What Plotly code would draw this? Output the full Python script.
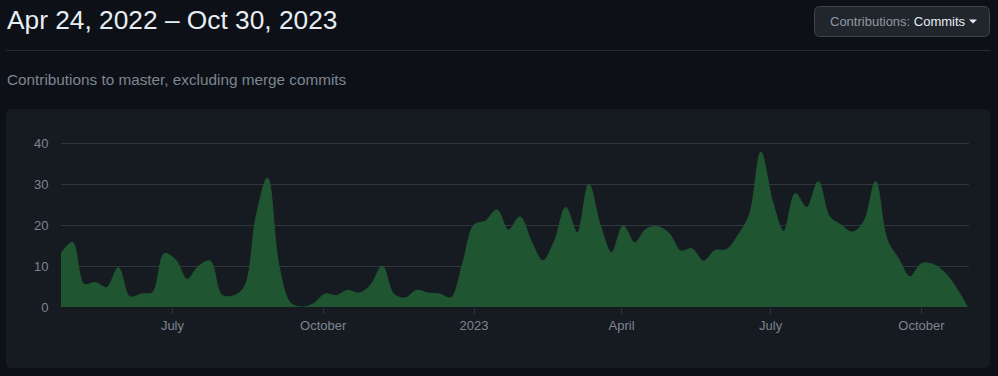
import pandas as pd
import plotly.graph_objects as go

# ---- data ----
start_date = "2022-04-24"
end_date = "2023-10-30"
weeks = pd.date_range(start_date, periods=80, freq="7D")
commits = [
    13, 15.8, 5.6, 6, 4.8, 9.6, 2.5, 3.2, 3.6, 13,
    11.5, 6.8, 10, 11.2, 3, 2.7, 5, 22, 31.5, 10,
    1, 0, 0.8, 3.2, 2.8, 4.1, 3.4, 5.4, 10, 3.2,
    2.2, 4.1, 3.4, 3.2, 2.3, 10.5, 20, 21, 23.7, 18.8,
    22, 16, 11.3, 16, 24.3, 18.1, 30, 20, 13.3, 19.8,
    15.7, 19, 19.6, 18, 13.7, 14.2, 11.2, 13.8, 14, 17.5,
    22.5, 37.8, 26, 18.5, 27.7, 24.3, 30.6, 22, 20, 18.3,
    21, 30.6, 16.5, 11.8, 7.4, 10.6, 10.4, 8.5, 4.8, 0,
]
x_tick_vals = ["2022-07-01", "2022-10-01", "2023-01-01", "2023-04-01", "2023-07-01", "2023-10-01"]
x_tick_text = ["July", "October", "2023", "April", "July", "October"]
y_tick_vals = [0, 10, 20, 30, 40]

title_text = "Apr 24, 2022 – Oct 30, 2023"
subtitle_text = "Contributions to master, excluding merge commits"

# ---- geometry helpers (pixel -> paper) ----
W, H = 998, 376
PL, PR, PT, PB = 61, 969, 139, 307


def px(x):
    return (x - PL) / (PR - PL)


def py(y):
    return (PB - y) / (PB - PT)


def rounded_rect(x0, y0, x1, y1, r):
    pts = [
        ("M", (x0 + r, y0)),
        ("L", (x1 - r, y0)),
        ("Q", (x1, y0), (x1, y0 + r)),
        ("L", (x1, y1 - r)),
        ("Q", (x1, y1), (x1 - r, y1)),
        ("L", (x0 + r, y1)),
        ("Q", (x0, y1), (x0, y1 - r)),
        ("L", (x0, y0 + r)),
        ("Q", (x0, y0), (x0 + r, y0)),
    ]
    s = ""
    for p in pts:
        cmd = p[0]
        coords = " ".join(f"{px(a):.6f},{py(b):.6f}" for a, b in p[1:])
        s += f"{cmd} {coords} "
    return s + "Z"


BG = "#0d1117"
PANEL = "#161b22"
GRID = "#30363d"
MUTED = "#7d8590"
FG = "#e6edf3"
FILL = "#1f5530"
FONT = "Liberation Sans, Arial, sans-serif"

fig = go.Figure()
fig.add_trace(
    go.Scatter(
        x=weeks,
        y=commits,
        mode="lines",
        line=dict(shape="spline", smoothing=1.0, color=FILL, width=1),
        fill="tozeroy",
        fillcolor=FILL,
        hoverinfo="skip",
    )
)

shapes = [
    dict(type="path", xref="paper", yref="paper", path=rounded_rect(6, 109, 990, 368, 6),
         fillcolor=PANEL, line=dict(width=0), layer="below"),
    dict(type="line", xref="paper", yref="paper", x0=px(6), x1=px(990), y0=py(50.5), y1=py(50.5),
         line=dict(color="#262c34", width=1), layer="below"),
    dict(type="path", xref="paper", yref="paper", path=rounded_rect(814.5, 6.5, 989.5, 36.5, 6),
         fillcolor="#21262d", line=dict(color="#3d444d", width=1), layer="below"),
    dict(type="path", xref="paper", yref="paper",
         path=f"M {px(969):.6f},{py(19.5):.6f} L {px(977):.6f},{py(19.5):.6f} L {px(973):.6f},{py(23.5):.6f} Z",
         fillcolor=FG, line=dict(width=0), layer="above"),
]

annotations = [
    dict(xref="paper", yref="paper", x=px(5), y=py(20), xanchor="left", yanchor="middle",
         text=title_text, showarrow=False, font=dict(family=FONT, size=26.3, color=FG)),
    dict(xref="paper", yref="paper", x=px(5), y=py(80), xanchor="left", yanchor="middle",
         text=subtitle_text, showarrow=False, font=dict(family=FONT, size=15.3, color=MUTED)),
    dict(xref="paper", yref="paper", x=px(828), y=py(21), xanchor="left", yanchor="middle",
         text=f"Contributions: <span style='color:{FG}'>Commits</span>", showarrow=False,
         font=dict(family=FONT, size=13, color="#9198a1")),
]

fig.update_layout(
    width=W,
    height=H,
    margin=dict(l=PL, r=W - PR, t=PT, b=H - PB, pad=0),
    paper_bgcolor=BG,
    plot_bgcolor="rgba(0,0,0,0)",
    showlegend=False,
    shapes=shapes,
    annotations=annotations,
    font=dict(family=FONT, size=13, color=MUTED),
    xaxis=dict(
        range=[start_date, end_date],
        tickvals=x_tick_vals,
        ticktext=x_tick_text,
        ticks="outside",
        ticklen=6,
        tickcolor=GRID,
        showgrid=False,
        zeroline=False,
        showline=False,
        tickfont=dict(family=FONT, size=13, color=MUTED),
        fixedrange=True,
    ),
    yaxis=dict(
        range=[0, 41],
        tickvals=y_tick_vals,
        ticks="outside",
        ticklen=9,
        tickcolor="rgba(0,0,0,0)",
        showgrid=True,
        gridcolor=GRID,
        gridwidth=1,
        zeroline=False,
        showline=False,
        tickfont=dict(family=FONT, size=13, color=MUTED),
        fixedrange=True,
    ),
)

fig.write_html(
    "out.html",
    config={"displayModeBar": False},
    post_script="document.body.style.margin='0';document.body.style.background='#0d1117';",
)
